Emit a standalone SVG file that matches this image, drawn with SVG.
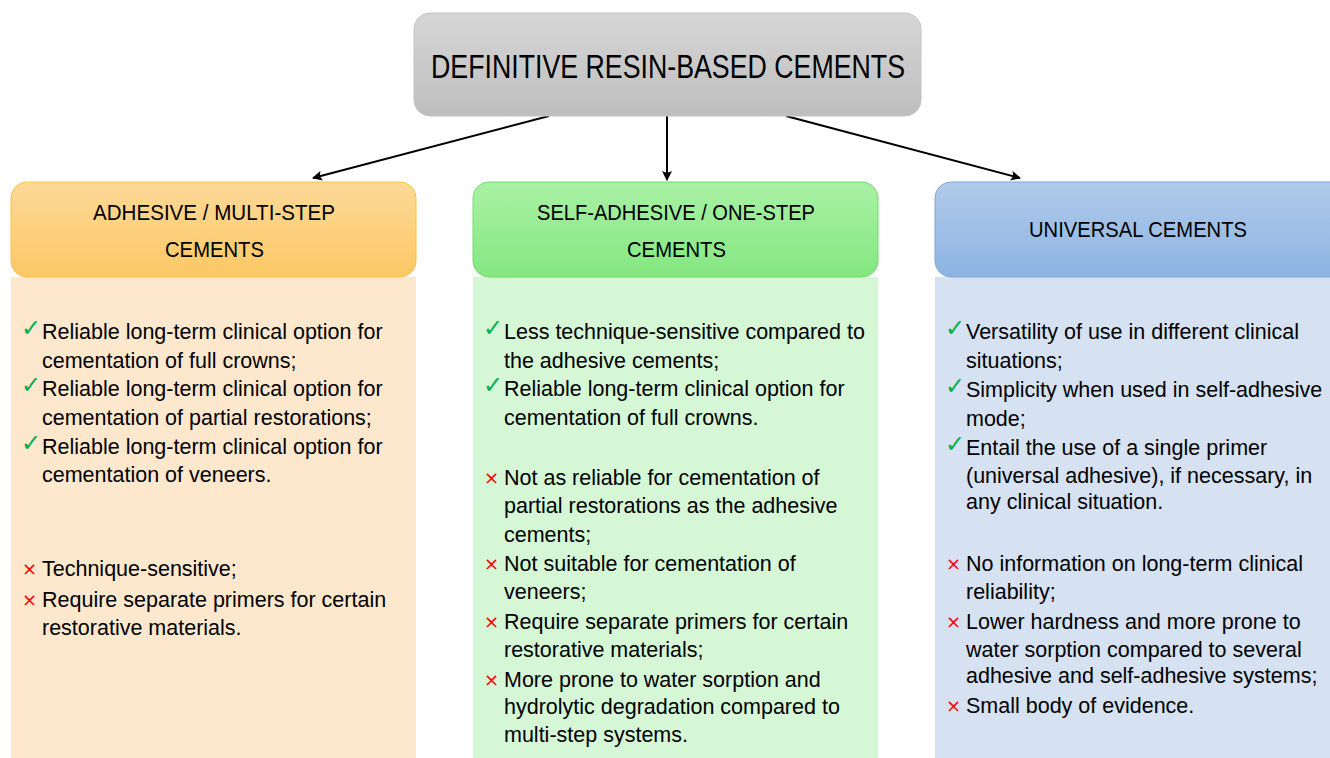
<svg xmlns="http://www.w3.org/2000/svg" width="1330" height="758" viewBox="0 0 1330 758">
<defs>
<linearGradient id="gGray" x1="0" y1="0" x2="0" y2="1"><stop offset="0" stop-color="#d6d6d6"/><stop offset="1" stop-color="#bebebe"/></linearGradient>
<linearGradient id="gOrange" x1="0" y1="0" x2="0" y2="1"><stop offset="0" stop-color="#fdd998"/><stop offset="1" stop-color="#fcc865"/></linearGradient>
<linearGradient id="gGreen" x1="0" y1="0" x2="0" y2="1"><stop offset="0" stop-color="#a9f1a5"/><stop offset="1" stop-color="#84e780"/></linearGradient>
<linearGradient id="gBlue" x1="0" y1="0" x2="0" y2="1"><stop offset="0" stop-color="#b0cbea"/><stop offset="1" stop-color="#8db3e2"/></linearGradient>
<marker id="arr" viewBox="0 0 10 10" refX="9" refY="5" markerWidth="5.5" markerHeight="5" orient="auto" markerUnits="strokeWidth"><path d="M0,0 L10,5 L0,10 L2,5 z" fill="#000"/></marker>
</defs>
<style>
text{font-family:"Liberation Sans",Arial,sans-serif;fill:#000}
.title{font-size:33px}
.hdr{font-size:22.5px}
.body{font-size:21.5px}
.ok{font-family:"DejaVu Sans",sans-serif;font-size:24px;fill:#00b050}
.no{font-family:"DejaVu Sans",sans-serif;font-size:18px;fill:#ff0000}
.conn{stroke:#000;stroke-width:2;fill:none;marker-end:url(#arr)}
</style>
<rect width="1330" height="758" fill="#ffffff"/>

<g id="connectors">
<line class="conn" x1="549" y1="116" x2="313" y2="178"/>
<line class="conn" x1="667" y1="116" x2="667" y2="180"/>
<line class="conn" x1="786" y1="116" x2="1020" y2="178"/>
</g>

<g id="root">
<rect x="414" y="13" width="507" height="103" rx="16" fill="url(#gGray)" stroke="#c4c4c4" stroke-width="1"/>
<text class="title" x="431" y="78" textLength="474" lengthAdjust="spacingAndGlyphs">DEFINITIVE RESIN-BASED CEMENTS</text>
</g>

<g id="adhesive">
<rect x="11" y="277" width="405" height="490" fill="#fde8cd"/>
<rect x="11" y="182" width="405" height="95" rx="16" fill="url(#gOrange)" stroke="#f7c244" stroke-width="1"/>
<text class="hdr" x="93" y="220" textLength="242" lengthAdjust="spacingAndGlyphs">ADHESIVE / MULTI-STEP</text>
<text class="hdr" x="165" y="257" textLength="99" lengthAdjust="spacingAndGlyphs">CEMENTS</text>
<text class="ok" x="21" y="336">✓</text>
<text class="body" x="42" y="339">Reliable long-term clinical option for</text>
<text class="body" x="42" y="368">cementation of full crowns;</text>
<text class="ok" x="21" y="393">✓</text>
<text class="body" x="42" y="396">Reliable long-term clinical option for</text>
<text class="body" x="42" y="425">cementation of partial restorations;</text>
<text class="ok" x="21" y="451">✓</text>
<text class="body" x="42" y="454">Reliable long-term clinical option for</text>
<text class="body" x="42" y="482">cementation of veneers.</text>
<text class="no" x="22" y="575">×</text>
<text class="body" x="42" y="576">Technique-sensitive;</text>
<text class="no" x="22" y="606">×</text>
<text class="body" x="42" y="607">Require separate primers for certain</text>
<text class="body" x="42" y="635">restorative materials.</text>
</g>

<g id="self-adhesive">
<rect x="473" y="277" width="405" height="490" fill="#d5f7d5"/>
<rect x="473" y="182" width="405" height="95" rx="16" fill="url(#gGreen)" stroke="#6fdc6f" stroke-width="1"/>
<text class="hdr" x="537" y="220" textLength="278" lengthAdjust="spacingAndGlyphs">SELF-ADHESIVE / ONE-STEP</text>
<text class="hdr" x="627" y="257" textLength="99" lengthAdjust="spacingAndGlyphs">CEMENTS</text>
<text class="ok" x="483" y="336">✓</text>
<text class="body" x="504" y="339">Less technique-sensitive compared to</text>
<text class="body" x="504" y="368">the adhesive cements;</text>
<text class="ok" x="483" y="393">✓</text>
<text class="body" x="504" y="396">Reliable long-term clinical option for</text>
<text class="body" x="504" y="425">cementation of full crowns.</text>
<text class="no" x="484" y="484">×</text>
<text class="body" x="504" y="485">Not as reliable for cementation of</text>
<text class="body" x="504" y="513">partial restorations as the adhesive</text>
<text class="body" x="504" y="542">cements;</text>
<text class="no" x="484" y="570">×</text>
<text class="body" x="504" y="571">Not suitable for cementation of</text>
<text class="body" x="504" y="599">veneers;</text>
<text class="no" x="484" y="628">×</text>
<text class="body" x="504" y="629">Require separate primers for certain</text>
<text class="body" x="504" y="657">restorative materials;</text>
<text class="no" x="484" y="686">×</text>
<text class="body" x="504" y="687">More prone to water sorption and</text>
<text class="body" x="504" y="714">hydrolytic degradation compared to</text>
<text class="body" x="504" y="742">multi-step systems.</text>
</g>

<g id="universal">
<rect x="935" y="277" width="405" height="490" fill="#d6e2f2"/>
<rect x="935" y="182" width="420" height="95" rx="16" fill="url(#gBlue)" stroke="#7fa6d9" stroke-width="1"/>
<text class="hdr" x="1029" y="237" textLength="218" lengthAdjust="spacingAndGlyphs">UNIVERSAL CEMENTS</text>
<text class="ok" x="945" y="336">✓</text>
<text class="body" x="966" y="339">Versatility of use in different clinical</text>
<text class="body" x="966" y="368">situations;</text>
<text class="ok" x="945" y="394">✓</text>
<text class="body" x="966" y="397">Simplicity when used in self-adhesive</text>
<text class="body" x="966" y="426">mode;</text>
<text class="ok" x="945" y="452">✓</text>
<text class="body" x="966" y="455">Entail the use of a single primer</text>
<text class="body" x="966" y="483">(universal adhesive), if necessary, in</text>
<text class="body" x="966" y="509">any clinical situation.</text>
<text class="no" x="946" y="570">×</text>
<text class="body" x="966" y="571">No information on long-term clinical</text>
<text class="body" x="966" y="599">reliability;</text>
<text class="no" x="946" y="628">×</text>
<text class="body" x="966" y="629">Lower hardness and more prone to</text>
<text class="body" x="966" y="657">water sorption compared to several</text>
<text class="body" x="966" y="683">adhesive and self-adhesive systems;</text>
<text class="no" x="946" y="712">×</text>
<text class="body" x="966" y="713">Small body of evidence.</text>
</g>
</svg>
